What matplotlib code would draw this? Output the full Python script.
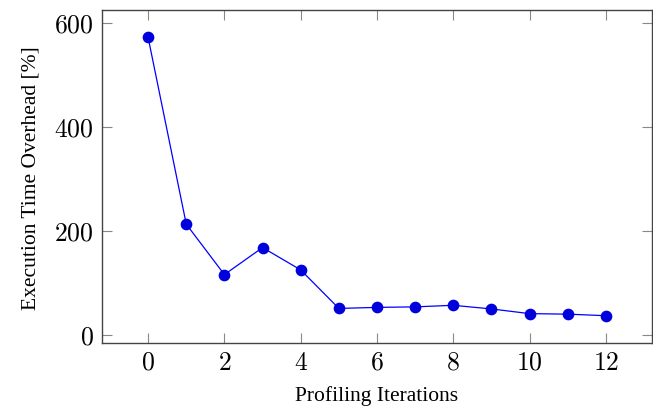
import matplotlib
matplotlib.use("Agg")
import matplotlib.pyplot as plt

iterations = [0, 1, 2, 3, 4, 5, 6, 7, 8, 9, 10, 11, 12]
overhead = [573, 214, 117, 169, 126, 52, 54, 55, 58, 51, 42, 41, 38]
xticks = [0, 2, 4, 6, 8, 10, 12]
yticks = [0, 200, 400, 600]

plt.rcParams['mathtext.fontset'] = 'cm'
plt.rcParams['font.family'] = ['Liberation Serif', 'DejaVu Serif']

fig = plt.figure(figsize=(6.53, 4.14), dpi=100)
ax = fig.add_axes([0.1567, 0.1684, 0.998 - 0.1567, 0.9734 - 0.1684])

ax.plot(iterations, overhead, color='#0000ff', linewidth=0.9, marker='o',
        markersize=7.4, markerfacecolor='#0000dd', markeredgecolor='#0000dd')

ax.set_xlim(-1.2, 13.2)
ax.set_ylim(-15, 625.6)
ax.set_xticks(xticks)
ax.set_xticklabels([f'${t}$' for t in xticks])
ax.set_yticks(yticks)
ax.set_yticklabels([f'${t}$' for t in yticks])
ax.tick_params(direction='in', length=7.2, width=0.8, color='#888888',
               top=True, right=True, labelsize=18.5, pad=6)
for s in ax.spines.values():
    s.set_color('#444444')
    s.set_linewidth(1.0)

ax.set_xlabel('Profiling Iterations', fontsize=15.5, labelpad=8)
ax.set_ylabel('Execution Time Overhead [%]', fontsize=15.5, labelpad=10)

fig.savefig('out.png', dpi=100)
